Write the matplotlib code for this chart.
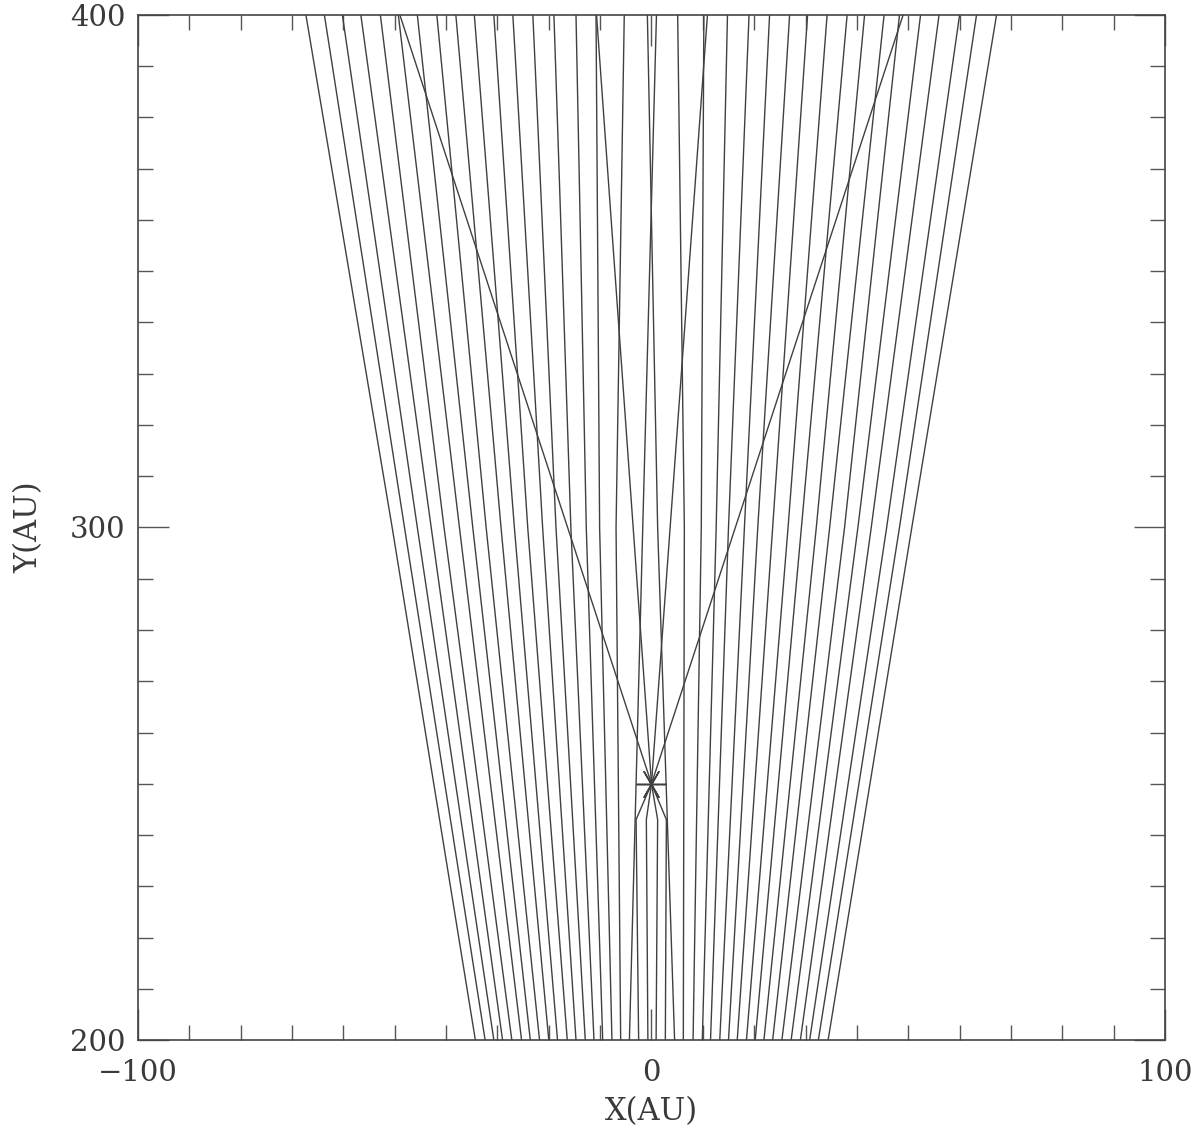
import matplotlib
matplotlib.use("Agg")
import matplotlib.pyplot as plt
from matplotlib.ticker import MultipleLocator

# ray positions (AU): at y=200, y=300 and y=400
y_levels = [200, 300, 400]

left_bottom = [-34.3, -32.4, -30.7, -29.0, -27.2, -25.3, -23.6, -21.8, -20.0,
               -18.3, -16.4, -14.7, -12.9, -11.2, -9.5, -7.7, -6.0, -4.3]
left_mid = [-50.5, -48.1, -45.6, -42.9, -40.4, -37.4, -34.8, -32.2, -29.3,
            -26.7, -24.1, -21.2, -18.6, -15.7, -12.7, -10.1, -6.9, -1.7]
left_top = [-67.3, -63.7, -60.2, -56.6, -52.8, -49.3, -45.6, -41.8, -38.1,
            -34.5, -30.7, -27.0, -23.1, -19.0, -14.7, -10.8, -5.3, 0.97]

right_bottom = [4.5, 6.2, 8.1, 9.9, 11.5, 13.3, 15.0, 16.7, 18.5,
                20.2, 21.9, 23.6, 25.4, 27.2, 29.0, 30.8, 32.5, 34.4]
right_mid = [1.2, 6.4, 9.7, 12.6, 15.0, 18.1, 20.7, 23.6, 26.6,
             29.2, 32.1, 34.7, 37.6, 40.2, 42.8, 45.8, 48.3, 50.7]
right_top = [-0.8, 5.1, 10.2, 14.8, 19.0, 23.0, 26.9, 30.4, 34.2,
             38.1, 41.5, 45.3, 48.3, 52.4, 56.0, 60.0, 63.3, 67.2]

# rays that run into the star and leave it again
star = (0.0, 250.0)
central_bottom = [-2.5, -0.7, 0.9, 2.7]
central_near = [-3.0, -1.0, 1.2, 2.9]   # just below the star
near_y = 243
central_top = [-49.0, 10.9, -10.7, 49.0]

ink = "#404040"
txt = "#3a3a3a"
serif = "DejaVu Serif"

fig = plt.figure(figsize=(12, 11.43), dpi=100)
ax = fig.add_axes([0.115, 0.0901, 0.8558, 0.8968])

for xb, xm, xt in zip(left_bottom + right_bottom, left_mid + right_mid,
                      left_top + right_top):
    ax.plot([xb, xm, xt], y_levels, color=ink, lw=1.0)

for xb, xn, xt in zip(central_bottom, central_near, central_top):
    ax.plot([xb, xn, star[0], xt],
            [y_levels[0], near_y, star[1], y_levels[-1]],
            color=ink, lw=1.0)

# star marker: six-armed asterisk with a horizontal arm
ax.plot(star[0], star[1], marker=(6, 2, 90), markersize=22,
        markeredgewidth=1.1, color=ink, linestyle="none")

ax.set_xlim(-100, 100)
ax.set_ylim(200, 400)
ax.xaxis.set_minor_locator(MultipleLocator(10))
ax.yaxis.set_minor_locator(MultipleLocator(10))
ax.tick_params(which="both", direction="in", top=True, right=True,
               color="#555555", width=1.0, labelsize=21, labelcolor=txt)
ax.tick_params(which="major", length=22)
ax.tick_params(which="minor", length=11)
ax.tick_params(axis="x", pad=14)
ax.tick_params(axis="y", pad=9)
ax.set_xticks([-100, 0, 100])
ax.set_xticklabels(["\u2212100", "0", "100"], family=serif)
ax.set_yticks([200, 300, 400])
ax.set_yticklabels(["200", "300", "400"], family=serif)
for s in ax.spines.values():
    s.set_color("#444444")
    s.set_linewidth(1.2)

ax.set_xlabel("X(AU)", fontsize=22, family=serif, color=txt, labelpad=6)
ax.set_ylabel("Y(AU)", fontsize=22, family=serif, color=txt, labelpad=18)

fig.savefig("out.png", dpi=100)
